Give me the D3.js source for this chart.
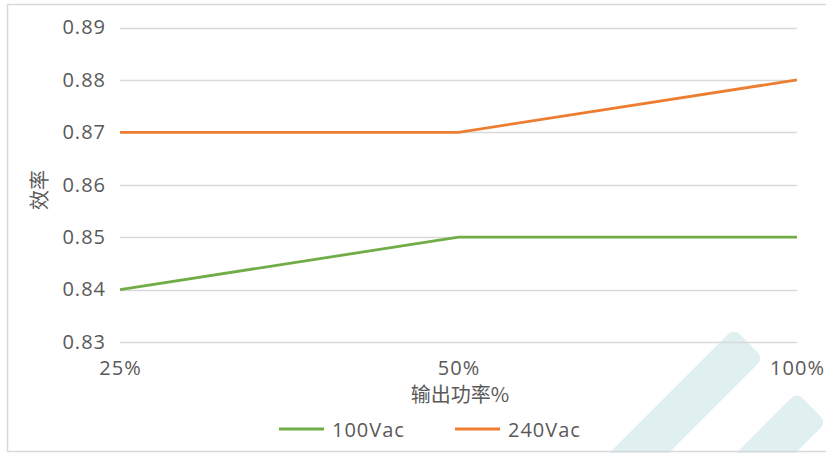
<!DOCTYPE html>
<html>
<head>
<meta charset="utf-8">
<script src="https://cdn.jsdelivr.net/npm/d3@7"></script>
<style>
  body { margin: 0; background: #fff; }
  text { font-family: "Open Sans", sans-serif; fill: #595959; }
  .cjk { font-family: "Noto Sans CJK SC", sans-serif; }
</style>
</head>
<body>
<div id="chart"></div>
<script>
// data
const categories = ["25%", "50%", "100%"];
const yTicks = [0.83, 0.84, 0.85, 0.86, 0.87, 0.88, 0.89];
const series100 = [0.84, 0.85, 0.85];
const series240 = [0.87, 0.87, 0.88];
const seriesNames = ["100Vac", "240Vac"];
const seriesColors = ["#70ad47", "#ed7d31"];

const W = 826, H = 453;

const svg = d3.select("#chart").append("svg")
    .attr("width", W)
    .attr("height", H);

// watermark stripes
[[748, 344], [811, 408]].forEach(p => {
    svg.append("rect")
        .attr("transform", `translate(${p[0]},${p[1]}) rotate(45)`)
        .attr("x", -21).attr("y", -1)
        .attr("width", 42).attr("height", 260)
        .attr("rx", 8)
        .attr("fill", "#e0f0f0");
});

// chart border
svg.append("rect")
    .attr("x", 7.5).attr("y", 4.5)
    .attr("width", 840).attr("height", 447)
    .attr("fill", "none")
    .attr("stroke", "#d9d9d9")
    .attr("stroke-width", 1.5);

const x = d3.scalePoint()
    .domain(categories)
    .range([120, 797]);

const y = d3.scaleLinear()
    .domain([0.83, 0.89])
    .range([342, 27.5]);

// gridlines
svg.append("g")
    .selectAll("line")
    .data(yTicks)
    .join("line")
    .attr("x1", 120).attr("x2", 797)
    .attr("y1", d => Math.round(y(d)) + 0.5)
    .attr("y2", d => Math.round(y(d)) + 0.5)
    .attr("stroke", "#d9d9d9")
    .attr("stroke-width", 1.5);

// y axis labels
const yAxis = d3.axisLeft(y)
    .tickValues(yTicks)
    .tickFormat(d3.format(".2f"))
    .tickSize(0)
    .tickPadding(14);

svg.append("g")
    .attr("transform", "translate(120,0)")
    .call(yAxis)
    .call(g => g.select(".domain").remove())
    .attr("font-family", null)
    .attr("font-size", null)
    .selectAll("text")
    .style("font-size", "20px")
    .style("letter-spacing", "1px")
    .attr("fill", null);

// x axis labels
const xAxis = d3.axisBottom(x)
    .tickSize(0)
    .tickPadding(0);

svg.append("g")
    .attr("transform", "translate(0,368)")
    .call(xAxis)
    .call(g => g.select(".domain").remove())
    .attr("font-family", null)
    .attr("font-size", null)
    .selectAll("text")
    .attr("dy", "0.35em")
    .style("font-size", "20px")
    .style("letter-spacing", "1px")
    .attr("fill", null);

// axis titles
svg.append("text")
    .attr("class", "cjk")
    .attr("x", 460).attr("y", 393.5)
    .attr("text-anchor", "middle")
    .attr("dominant-baseline", "central")
    .style("font-size", "20px")
    .text("输出功率%");

svg.append("text")
    .attr("class", "cjk")
    .attr("transform", "translate(38,190) rotate(-90)")
    .attr("text-anchor", "middle")
    .attr("dominant-baseline", "central")
    .style("font-size", "20px")
    .text("效率");

// lines
const line = d3.line()
    .x((d, i) => x(categories[i]))
    .y(d => y(d));

[series100, series240].forEach((s, i) => {
    svg.append("path")
        .datum(s)
        .attr("d", line)
        .attr("fill", "none")
        .attr("stroke", seriesColors[i])
        .attr("stroke-width", 2.8);
});

// legend
const legendX = [279, 455];
seriesNames.forEach((name, i) => {
    const g = svg.append("g").attr("transform", `translate(${legendX[i]},429)`);
    g.append("line")
        .attr("x1", 0).attr("x2", 45)
        .attr("stroke", seriesColors[i])
        .attr("stroke-width", 2.8);
    g.append("text")
        .attr("x", 53)
        .attr("dominant-baseline", "central")
        .style("font-size", "20px")
        .style("letter-spacing", "1px")
        .text(name);
});
</script>
</body>
</html>
